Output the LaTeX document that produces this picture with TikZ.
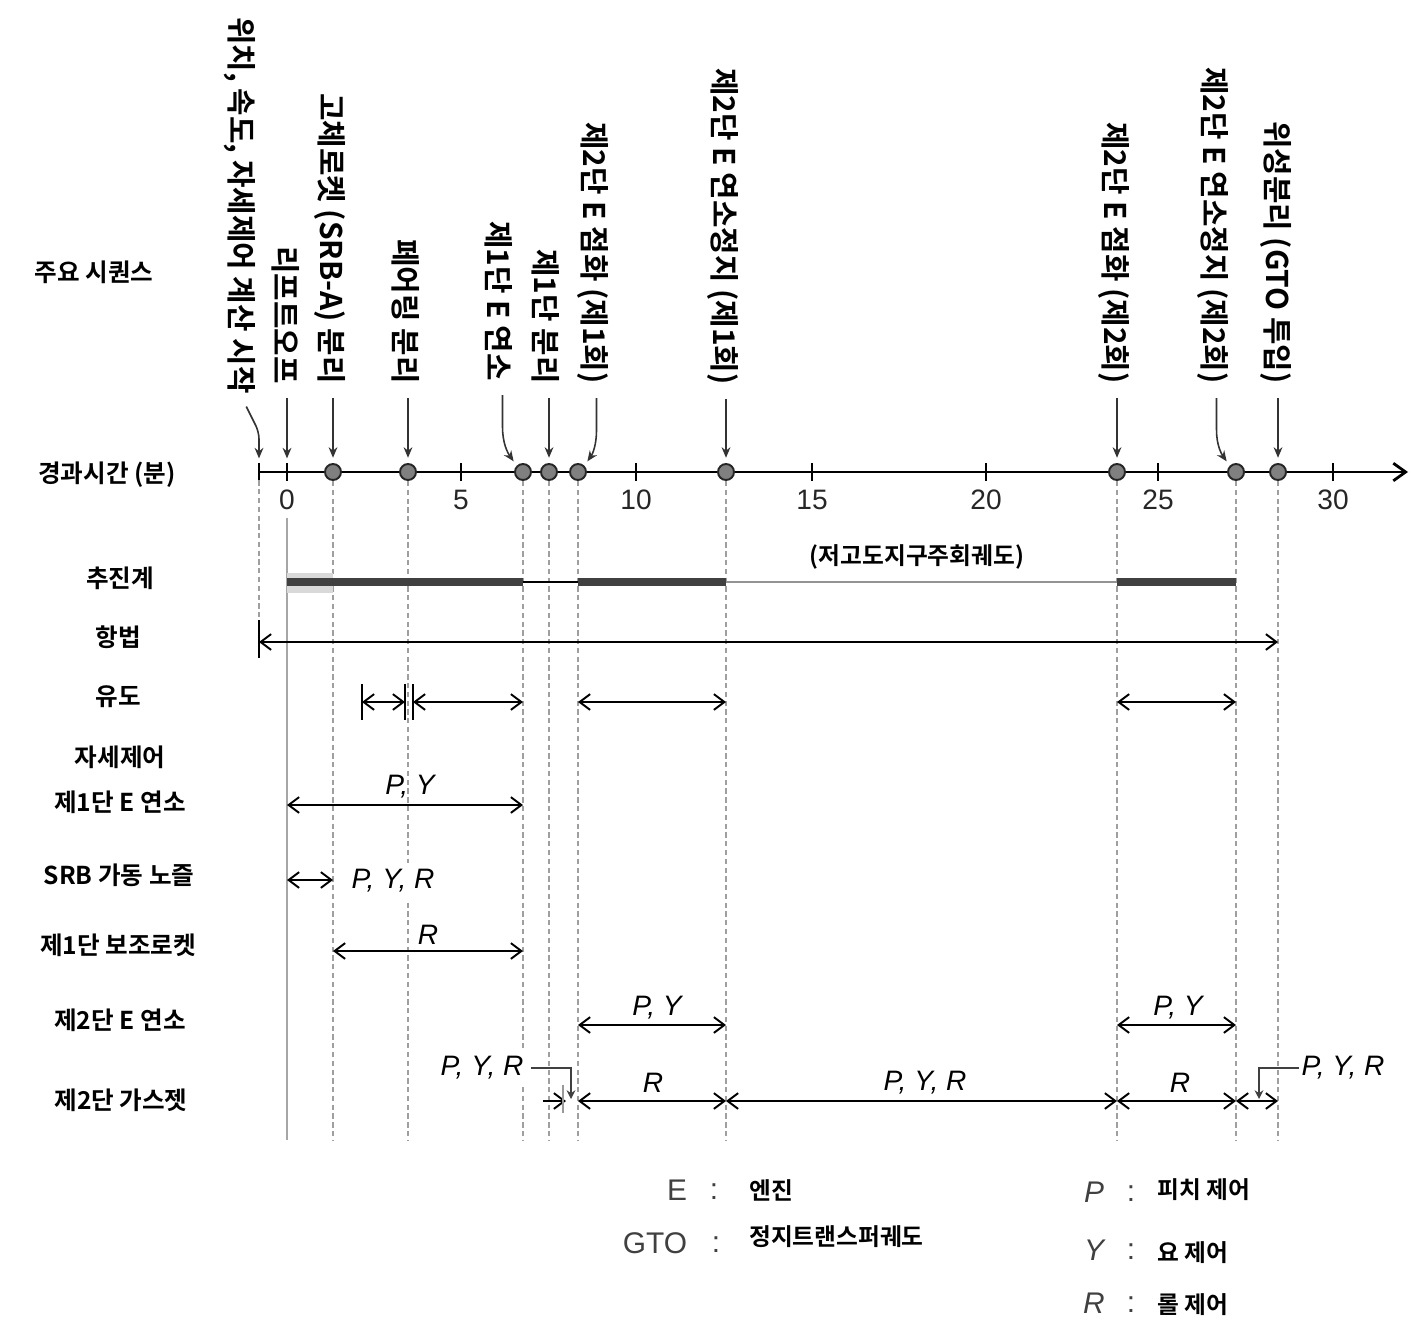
\documentclass[tikz,border=0pt]{standalone}
\usepackage{fontspec}
\setmainfont{Liberation Sans}
\newfontfamily\kr{Noto Sans CJK KR}[BoldFont={Noto Sans CJK KR Bold}]
\usetikzlibrary{arrows.meta}
\tikzset{
    evt/.style={circle,draw=black!85,fill=black!50,line width=1.1pt,minimum size=0.32cm,inner sep=0},
    tck/.style={circle,minimum size=0.32cm,inner sep=0},
    evlabel/.style={rotate=-90,anchor=east,inner sep=0,font=\kr\bfseries\fontsize{17}{20}\selectfont},
    rowlabel/.style={font=\kr\bfseries\fontsize{14}{17}\selectfont},
    leglabel/.style={anchor=west,font=\kr\bfseries\fontsize{13.5}{16}\selectfont},
    legkey/.style={text=black!75,font=\fontsize{17}{20}\selectfont},
    evarrow/.style={-{Stealth[length=6pt,width=5pt]},line width=0.9pt,black!80,shorten <=8pt,shorten >=3pt},
    ctlspan/.style={{Straight Barb[length=6pt,width=9pt]}-{Straight Barb[length=6pt,width=9pt]},line width=1.1pt},
    leader/.style={-{Stealth[length=5pt,width=5pt]},line width=0.8pt,black!75},
    guide/.style={gray!75,dash pattern=on 3pt off 2pt,line width=0.7pt},
    ctl/.style={inner sep=1pt,font=\itshape\fontsize{16}{19}\selectfont},
}
\begin{document}
\begin{tikzpicture}[x=0.02cm,y=-0.02cm]
    \useasboundingbox (0,0) rectangle (1422,1329);

    \coordinate (axend) at (1408,472);
    \draw[line width=1.6pt,-{Straight Barb[length=7pt,width=10pt]}] (259,472) -- (axend);
    \draw[line width=1.2pt] (259,463) -- (259,481);
    \foreach \t/\x in {0/287,5/461,10/636,15/812,20/986,25/1158,30/1333} {
        \draw[line width=1.2pt] (\x,463) -- (\x,481);
        \node[text=black!85,font=\fontsize{16}{19}\selectfont] (tk\t) at (\x,500) {\t};
    }

    \node[tck] (st) at (259,472) {};
    \node[tck] (lo) at (287,472) {};
    \node[evt] (srb) at (333,472) {};
    \node[evt] (fair) at (408,472) {};
    \node[evt] (meco) at (523,472) {};
    \node[evt] (sep1) at (549,472) {};
    \node[evt] (ign1) at (578,472) {};
    \node[evt] (cut1) at (726,472) {};
    \node[evt] (ign2) at (1117,472) {};
    \node[evt] (cut2) at (1236,472) {};
    \node[evt] (sat) at (1278,472) {};

    \node[evlabel] (lst) at (240,394) {위치, 속도, 자세제어 계산 시작};
    \node[evlabel] (llo) at (286,384) {리프트오프};
    \node[evlabel] (lsrb) at (330,384) {고체로켓 (SRB-A) 분리};
    \node[evlabel] (lfair) at (406,384) {페어링 분리};
    \node[evlabel] (lmeco) at (499,381) {제1단 E 연소};
    \node[evlabel] (lsep1) at (546,384) {제1단 분리};
    \node[evlabel] (lign1) at (593,384) {제2단 E 점화 (제1회)};
    \node[evlabel] (lcut1) at (723,385) {제2단 E 연소정지 (제1회)};
    \node[evlabel] (lign2) at (1114,384) {제2단 E 점화 (제2회)};
    \node[evlabel] (lcut2) at (1213,384) {제2단 E 연소정지 (제2회)};
    \node[evlabel] (lsat) at (1276,384) {위성분리 (GTO 투입)};

    \draw[evarrow,rounded corners=4pt] (lst.east) -- (st |- 0,432) -- (st.north);
    \draw[evarrow] (lo |- llo.east) -- (lo.north);
    \draw[evarrow] (srb |- lsrb.east) -- (srb.north);
    \draw[evarrow] (fair |- lfair.east) -- (fair.north);
    \draw[evarrow] ([xshift=2pt]lmeco.east) -- ++(0,46) to[out=-90,in=125] (meco.north west);
    \draw[evarrow] (sep1 |- lsep1.east) -- (sep1.north);
    \draw[evarrow] ([xshift=2pt]lign1.east) -- ++(0,46) to[out=-90,in=55] (ign1.north east);
    \draw[evarrow] (cut1 |- lcut1.east) -- (cut1.north);
    \draw[evarrow] (ign2 |- lign2.east) -- (ign2.north);
    \draw[evarrow] ([xshift=2pt]lcut2.east) -- ++(0,46) to[out=-90,in=125] (cut2.north west);
    \draw[evarrow] (sat |- lsat.east) -- (sat.north);

    \coordinate (bot) at (0,1140);
    \coordinate (rprop) at (0,582);
    \coordinate (rnav) at (0,642);
    \coordinate (rgui) at (0,702);
    \coordinate (rpy1) at (0,805);
    \coordinate (rsrbn) at (0,880);
    \coordinate (raux) at (0,951);
    \coordinate (rpy2) at (0,1025);
    \coordinate (rgas) at (0,1101);

    \draw[guide] (st.south) -- (st |- 0,620);
    \draw[gray!70,line width=0.8pt] (lo |- 0,518) -- (lo |- bot);
    \foreach \e in {srb,fair,meco,sep1,ign1,cut1,ign2,cut2,sat}
        \draw[guide] (\e.south) -- (\e |- bot);

    \node[rowlabel] (hseq) at (94,272) {주요 시퀀스};
    \node[rowlabel] (htime) at (107,475) {경과시간 (분)};
    \node[rowlabel] (hprop) at (120,578) {추진계};
    \node[rowlabel] (hnav) at (118,637) {항법};
    \node[rowlabel] (hgui) at (118,697) {유도};
    \node[rowlabel] (hatt) at (120,757) {자세제어};
    \node[rowlabel] (hpy1) at (120,802) {제1단 E 연소};
    \node[rowlabel] (hsrbn) at (119,875) {SRB 가동 노즐};
    \node[rowlabel] (haux) at (118,945) {제1단 보조로켓};
    \node[rowlabel] (hpy2) at (120,1020) {제2단 E 연소};
    \node[rowlabel] (hgas) at (121,1100) {제2단 가스젯};

    \fill[gray!30] (lo |- 0,573) rectangle (srb |- 0,593);
    \draw[black!75,line width=4.5pt] (lo |- rprop) -- (meco |- rprop);
    \draw[line width=0.9pt] (meco |- rprop) -- (ign1 |- rprop);
    \draw[black!75,line width=4.5pt] (ign1 |- rprop) -- (cut1 |- rprop);
    \draw[gray!85,line width=0.9pt] (cut1 |- rprop) -- (ign2 |- rprop);
    \draw[black!75,line width=4.5pt] (ign2 |- rprop) -- (cut2 |- rprop);
    \node[font=\kr\bfseries\fontsize{13.5}{16}\selectfont] (leo) at (917,557) {(저고도지구주회궤도)};

    \draw[line width=1.1pt] (st |- 0,620) -- (st |- 0,658);
    \draw[ctlspan] (st |- rnav) -- (sat |- rnav);

    \coordinate (g1) at (362,702);
    \coordinate (g2) at (405,702);
    \coordinate (g3) at (413,702);
    \draw[line width=0.9pt] (362,684) -- (362,720);
    \draw[line width=0.9pt] (405,684) -- (405,720);
    \draw[line width=0.9pt] (413,684) -- (413,720);
    \draw[ctlspan] (g1) -- (g2);
    \draw[ctlspan] (g3) -- (meco |- rgui);
    \draw[ctlspan] (ign1 |- rgui) -- (cut1 |- rgui);
    \draw[ctlspan] (ign2 |- rgui) -- (cut2 |- rgui);

    \draw[ctlspan] (lo |- rpy1) -- (meco |- rpy1);
    \node[ctl] (cpy1) at (410,787) {P, Y};

    \draw[ctlspan] (lo |- rsrbn) -- (srb |- rsrbn);
    \node[ctl,fill=white,inner sep=4pt] (csrbn) at (393,881) {P, Y, R};

    \draw[ctlspan] (srb |- raux) -- (meco |- raux);
    \node[ctl] (caux) at (428,935) {R};

    \draw[ctlspan] (ign1 |- rpy2) -- (cut1 |- rpy2);
    \node[ctl] (cpy2a) at (657,1008) {P, Y};
    \draw[ctlspan] (ign2 |- rpy2) -- (cut2 |- rpy2);
    \node[ctl] (cpy2b) at (1178,1008) {P, Y};

    \coordinate (gj0) at (543,1101);
    \coordinate (gj1) at (566,1101);
    \draw[line width=1.1pt,-{Straight Barb[length=6pt,width=9pt]}] (gj0) -- (gj1);
    \draw[gray!80,line width=0.8pt] (563,1085) -- (563,1113);
    \draw[ctlspan] (ign1 |- rgas) -- (cut1 |- rgas);
    \draw[ctlspan] (cut1 |- rgas) -- (ign2 |- rgas);
    \draw[ctlspan] (ign2 |- rgas) -- (cut2 |- rgas);
    \draw[ctlspan] (cut2 |- rgas) -- (sat |- rgas);
    \node[ctl] (cgas1) at (653,1083) {R};
    \node[ctl] (cgas2) at (925,1083) {P, Y, R};
    \node[ctl] (cgas3) at (1180,1083) {R};

    \node[ctl,fill=white,inner sep=4pt] (gjl) at (482,1068) {P, Y, R};
    \coordinate (gja) at (571,1099);
    \draw[leader] (gjl.east) -| (gja);
    \node[ctl] (gjr) at (1343,1068) {P, Y, R};
    \coordinate (gjb) at (1259,1099);
    \draw[leader] (gjr.west) -| (gjb);

    \node[legkey] (kE) at (677,1190) {E};
    \node[legkey] (cE) at (714,1192) {:};
    \node[leglabel] (vE) at (743,1190) {엔진};
    \node[legkey] (kG) at (655,1243) {GTO};
    \node[legkey] (cG) at (716,1245) {:};
    \node[leglabel] (vG) at (743,1237) {정지트랜스퍼궤도};
    \node[legkey,font=\itshape\fontsize{17}{20}\selectfont] (kP) at (1094,1192) {P};
    \node[legkey] (cP) at (1131,1194) {:};
    \node[leglabel] (vP) at (1151,1190) {피치 제어};
    \node[legkey,font=\itshape\fontsize{17}{20}\selectfont] (kY) at (1094,1250) {Y};
    \node[legkey] (cY) at (1131,1252) {:};
    \node[leglabel] (vY) at (1151,1253) {요 제어};
    \node[legkey,font=\itshape\fontsize{17}{20}\selectfont] (kR) at (1094,1303) {R};
    \node[legkey] (cR) at (1131,1305) {:};
    \node[leglabel] (vR) at (1151,1305) {롤 제어};
\end{tikzpicture}
\end{document}
